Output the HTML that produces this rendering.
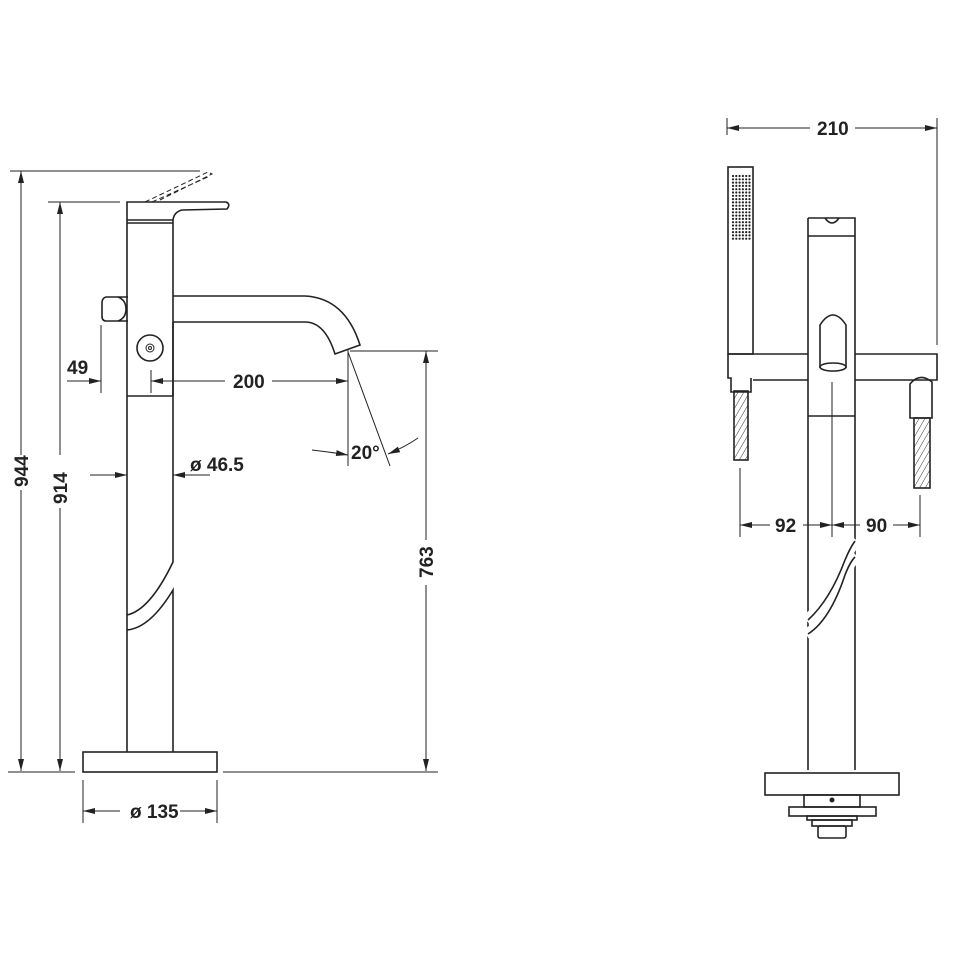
<!DOCTYPE html>
<html><head><meta charset="utf-8"><style>
html,body{margin:0;padding:0;background:#fff;width:955px;height:955px;overflow:hidden}
text{font-family:"Liberation Sans Narrow","Liberation Sans",sans-serif;font-weight:bold;font-size:19px;fill:#222}
</style></head><body>
<svg width="955" height="955" viewBox="0 0 955 955" xmlns="http://www.w3.org/2000/svg">
<defs>
<marker id="a" viewBox="0 0 12 6" refX="12" refY="3" markerWidth="12" markerHeight="6" orient="auto-start-reverse" markerUnits="userSpaceOnUse"><path d="M0,0L12,3L0,6z" fill="#222"/></marker>
<pattern id="h" width="5" height="5" patternUnits="userSpaceOnUse" patternTransform="rotate(30)"><line x1="0" y1="0" x2="0" y2="5" stroke="#333" stroke-width="1"/></pattern>
</defs>
<g stroke="#222" stroke-width="1" fill="none">
<line x1="10" y1="171" x2="200" y2="171"/>
<line x1="21" y1="171" x2="21" y2="455" marker-start="url(#a)"/>
<line x1="21" y1="490" x2="21" y2="771" marker-end="url(#a)"/>
<line x1="48" y1="202" x2="120" y2="202"/>
<line x1="60" y1="202" x2="60" y2="455" marker-start="url(#a)"/>
<line x1="60" y1="508" x2="60" y2="771" marker-end="url(#a)"/>
<line x1="8" y1="772" x2="75" y2="772"/>
<line x1="223" y1="772" x2="438" y2="772"/>
<line x1="350" y1="351" x2="438" y2="351"/>
<line x1="426" y1="351" x2="426" y2="540" marker-start="url(#a)"/>
<line x1="426" y1="585" x2="426" y2="771" marker-end="url(#a)"/>
<line x1="101" y1="325" x2="101" y2="393"/>
<line x1="67" y1="381" x2="101" y2="381" marker-end="url(#a)"/>
<line x1="151" y1="370" x2="151" y2="393"/>
<line x1="348" y1="350" x2="348" y2="466"/>
<line x1="151" y1="381" x2="225" y2="381" marker-start="url(#a)"/>
<line x1="272" y1="381" x2="348" y2="381" marker-end="url(#a)"/>
<line x1="348" y1="352" x2="390" y2="466"/>
<path d="M312,450 Q330,452 348,455" marker-end="url(#a)"/>
<path d="M418,438 Q405,447 388,454" marker-end="url(#a)"/>
<line x1="90" y1="475" x2="127" y2="475" marker-end="url(#a)"/>
<line x1="210" y1="475" x2="173" y2="475" marker-end="url(#a)"/>
<line x1="83" y1="780" x2="83" y2="823"/>
<line x1="217" y1="780" x2="217" y2="823"/>
<line x1="83" y1="811" x2="120" y2="811" marker-start="url(#a)"/>
<line x1="180" y1="811" x2="217" y2="811" marker-end="url(#a)"/>
<g stroke-width="1.6">
<rect x="83" y="752" width="134" height="20"/>
<path d="M127,752 V615 Q150,610 173,562 V296"/>
<path d="M127,630 Q150,628 173,590 V752"/>
<path d="M127,615 V220"/>
<path d="M173,322 V396"/>
<line x1="127" y1="396" x2="173" y2="396"/>
<path d="M127,220 V202 H226 Q231,204 227,209 L182,210 Q174,212 173,220 V296"/>
<line x1="127" y1="220" x2="173" y2="220"/>
<line x1="127" y1="223" x2="173" y2="223"/>
<path d="M173,296 H305 Q345,298 360,345 L335,354 Q325,322 305,322 H173"/>
<path d="M128,297 H106 Q102,298 102,303 V316 Q102,321 106,321 H128"/>
<path d="M118,297 Q126,300 126,309 Q126,318 118,321"/>
<circle cx="150" cy="348" r="13"/>
<circle cx="150" cy="348" r="4" stroke-width="1"/>
<circle cx="150" cy="348" r="1.5" stroke-width="1"/>
</g>
<path d="M145,202 L208,172 L212,174 L160,200 M152,202 L210,176" stroke-dasharray="5,3"/>
<line x1="727" y1="118" x2="727" y2="135"/>
<line x1="937" y1="118" x2="937" y2="345"/>
<line x1="727" y1="128" x2="810" y2="128" marker-start="url(#a)"/>
<line x1="855" y1="128" x2="937" y2="128" marker-end="url(#a)"/>
<line x1="740" y1="468" x2="740" y2="537"/>
<line x1="920" y1="495" x2="920" y2="537"/>
<line x1="832" y1="382" x2="832" y2="537"/>
<line x1="740" y1="525" x2="770" y2="525" marker-start="url(#a)"/>
<line x1="803" y1="525" x2="832" y2="525" marker-end="url(#a)"/>
<line x1="832" y1="525" x2="860" y2="525" marker-start="url(#a)"/>
<line x1="893" y1="525" x2="920" y2="525" marker-end="url(#a)"/>
<g stroke-width="1.6">
<rect x="728" y="167" width="25" height="187"/>
<path d="M728,354 H808 M855,354 H937 V380 H855 M808,380 H753"/>
<path d="M728,354 V378 H731 V392 H751 V378"/>
<rect x="734" y="391" width="14" height="69" fill="url(#h)"/>
<path d="M910,418 V384 Q920,372 932,382 V418 Z"/>
<rect x="914" y="418" width="16" height="70" fill="url(#h)"/>
<path d="M808,218 H855 V770 M808,218 V770"/>
<line x1="808" y1="236" x2="855" y2="236"/>
<path d="M825,218 Q832,228 839,218"/>
<line x1="808" y1="416" x2="855" y2="416"/>
<path d="M820,368 V325 Q833,305 846,325 V368"/>
<ellipse cx="833" cy="367" rx="13" ry="4"/>
<rect x="765" y="773" width="134" height="22"/>
<rect x="804" y="795" width="56" height="12"/>
<rect x="789" y="807" width="87" height="9"/>
<rect x="807" y="816" width="50" height="4"/>
<rect x="812" y="820" width="40" height="6"/>
<rect x="818" y="826" width="28" height="12" rx="2"/>
</g>
<circle cx="832" cy="800" r="2" fill="#222"/>
<path d="M806,620 Q830,600 845,560 Q850,548 857,541 M806,634 Q830,620 845,575 Q850,562 857,557" stroke="#fff" stroke-width="10"/>
<path d="M808,620 Q830,600 845,560 Q850,548 855,541 M808,634 Q830,620 845,575 Q850,562 855,557" stroke-width="1.6"/>
</g>
<g fill="#222">
<g transform="translate(733,176)">
<g id="r"><circle cx="0" cy="0" r="1.1"/><circle cx="3.3" cy="0" r="1.1"/><circle cx="6.6" cy="0" r="1.1"/><circle cx="9.9" cy="0" r="1.1"/><circle cx="13.2" cy="0" r="1.1"/><circle cx="16.5" cy="0" r="1.1"/></g>
<use href="#r" y="3.3"/><use href="#r" y="6.6"/><use href="#r" y="9.9"/><use href="#r" y="13.2"/><use href="#r" y="16.5"/><use href="#r" y="19.8"/><use href="#r" y="23.1"/><use href="#r" y="26.4"/><use href="#r" y="29.7"/><use href="#r" y="33"/><use href="#r" y="36.3"/><use href="#r" y="39.6"/><use href="#r" y="42.9"/><use href="#r" y="46.2"/><use href="#r" y="49.5"/><use href="#r" y="52.8"/><use href="#r" y="56.1"/><use href="#r" y="59.4"/><use href="#r" y="62.7"/>
</g>
</g>
<text x="67" y="374">49</text>
<text x="233" y="388">200</text>
<text x="351" y="459">20°</text>
<text x="190" y="471">ø 46.5</text>
<text x="130" y="818">ø 135</text>
<text transform="translate(28,487) rotate(-90)">944</text>
<text transform="translate(67,504) rotate(-90)">914</text>
<text transform="translate(433,578) rotate(-90)">763</text>
<text x="817" y="135">210</text>
<text x="775" y="532">92</text>
<text x="866" y="532">90</text>
</svg>
</body></html>
